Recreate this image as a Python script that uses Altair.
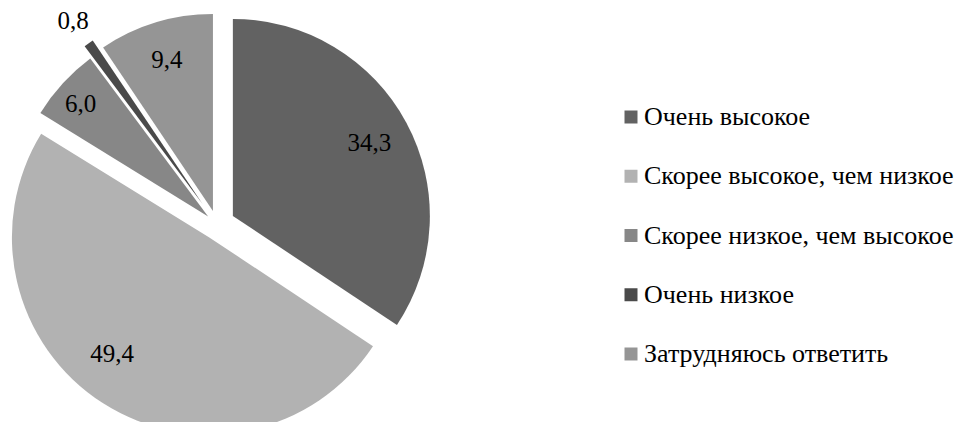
import altair as alt
import pandas as pd

categories = ["Очень высокое", "Скорее высокое, чем низкое", "Скорее низкое, чем высокое",
              "Очень низкое", "Затрудняюсь ответить"]
values = [34.3, 49.4, 6.0, 0.8, 9.4]
labels = ["34,3", "49,4", "6,0", "0,8", "9,4"]

# style / layout
colors = ["#626262", "#b2b2b2", "#878787", "#4a4a4a", "#959595"]
explode = [18, 15, 12, 25, 14]            # slice offset from centre, px
label_radius = [155, 152, 170, 224, 158]  # label distance from slice centre, px
label_dtheta = [0, 7, -1, 0, 0]           # label angle tweak, degrees
CX, CY, R = 209, 216.5, 197
FONT = "Liberation Serif, Times New Roman, serif"

df = pd.DataFrame({
    "idx": list(range(len(values))),
    "category": categories,
    "value": values,
    "label": labels,
    "explode": explode,
    "lr": label_radius,
    "dt": label_dtheta,
})

base = alt.Chart(df).transform_window(
    cum="sum(value)", sort=[alt.SortField("idx")], frame=[None, 0]
).transform_joinaggregate(
    total="sum(value)"
).transform_calculate(
    t1="2*PI*datum.cum/datum.total",
    t0="2*PI*(datum.cum-datum.value)/datum.total",
).transform_calculate(
    mid="(datum.t0+datum.t1)/2",
).transform_calculate(
    cx=f"{CX}+datum.explode*sin(datum.mid)",
    cy=f"{CY}-datum.explode*cos(datum.mid)",
    lt="datum.mid+datum.dt*PI/180",
)

arcs = base.mark_arc(radius=R, strokeWidth=0).encode(
    x=alt.X("cx:Q", scale=None, axis=None),
    y=alt.Y("cy:Q", scale=None, axis=None),
    theta=alt.Theta("t0:Q", scale=None),
    theta2="t1:Q",
    color=alt.Color(
        "category:N",
        scale=alt.Scale(domain=categories, range=colors),
        legend=alt.Legend(
            title=None, orient="none", legendX=610, legendY=96,
            symbolType="square", symbolSize=169, symbolStrokeWidth=0,
            labelFont=FONT, labelFontSize=26, labelColor="#000000",
            rowPadding=33.25, labelOffset=0, padding=0, labelLimit=400,
        ),
    ),
)

texts = base.mark_text(font=FONT, fontSize=25, color="#000000").encode(
    x=alt.X("cx:Q", scale=None, axis=None),
    y=alt.Y("cy:Q", scale=None, axis=None),
    theta=alt.Theta("lt:Q", scale=None),
    radius=alt.Radius("lr:Q", scale=None),
    text="label:N",
)

chart = alt.layer(arcs, texts).properties(
    width=950, height=414, padding=0, autosize=alt.AutoSizeParams(type="none")
).configure_view(strokeWidth=0)

chart.save("out.html", embed_options={"renderer": "svg", "actions": False})
